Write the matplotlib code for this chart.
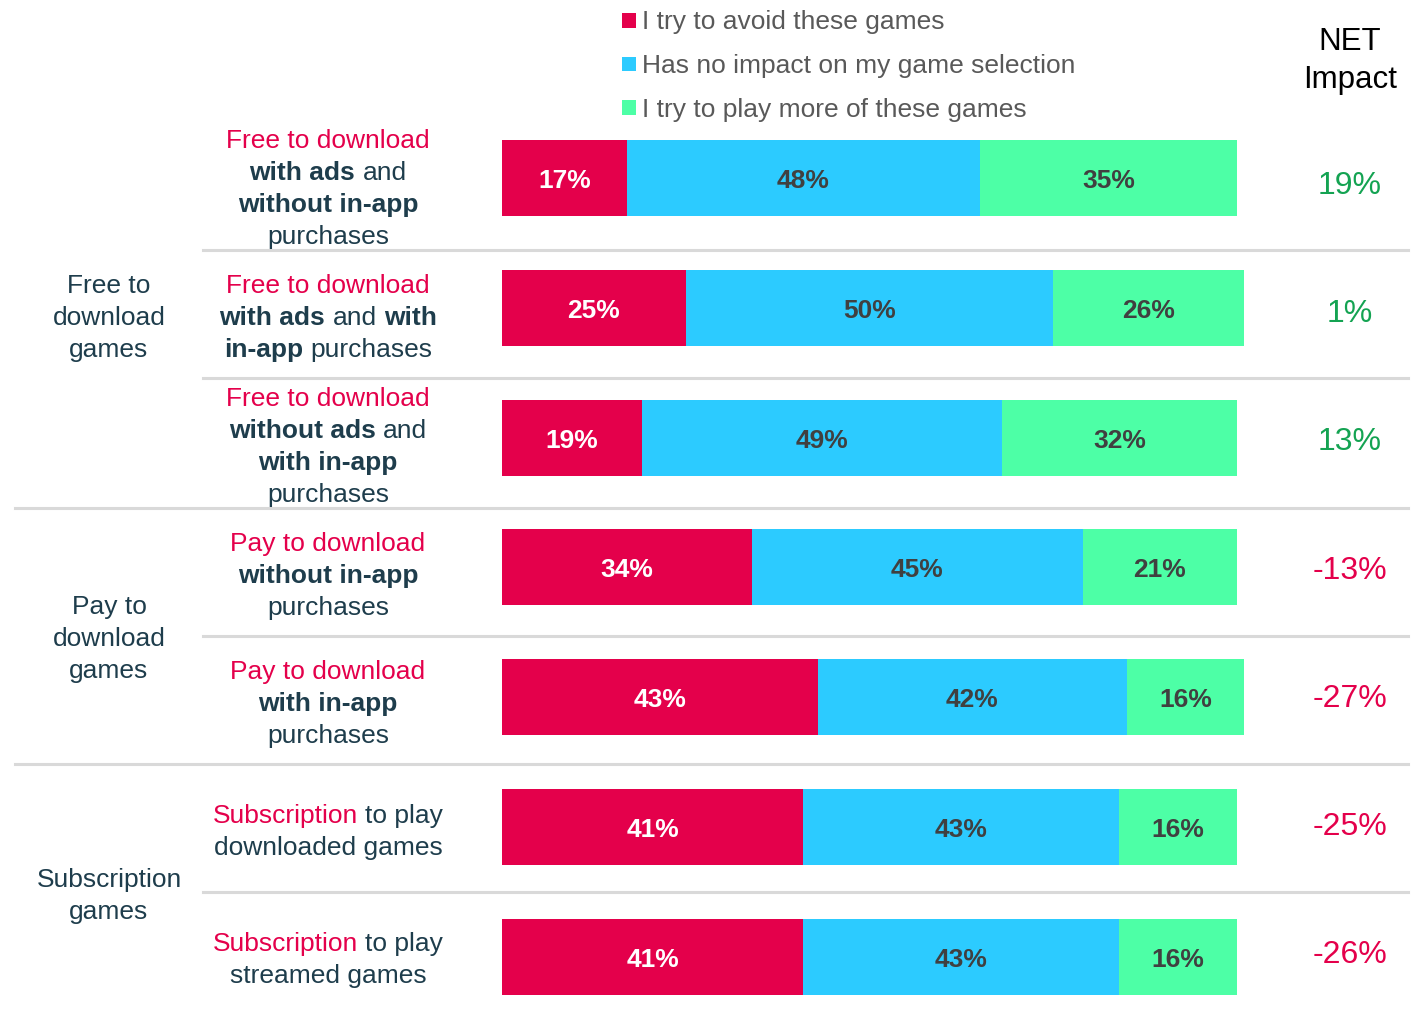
import matplotlib.pyplot as plt
from matplotlib.patches import Rectangle
from matplotlib.lines import Line2D
from matplotlib.transforms import ScaledTranslation

plt.rcParams['font.family'] = ['Liberation Sans', 'DejaVu Sans']

W, H = 1425, 1015

# survey answers per game model (percent of respondents)
series = ["I try to avoid these games",
          "Has no impact on my game selection",
          "I try to play more of these games"]
avoid = [17, 25, 19, 34, 43, 41, 41]
no_impact = [48, 50, 49, 45, 42, 43, 43]
play_more = [35, 26, 32, 21, 16, 16, 16]
net_impact = [19, 1, 13, -13, -27, -25, -26]

groups = ["Free to\ndownload\ngames", "Pay to\ndownload\ngames", "Subscription\ngames"]
group_sizes = [3, 2, 2]

# row labels: lines made of (text, style) pieces, joined by spaces
R, B, N = 'red', 'bold', 'plain'
row_labels = [
    [[("Free to download", R)], [("with ads", B), ("and", N)],
     [("without in-app", B)], [("purchases", N)]],
    [[("Free to download", R)], [("with ads", B), ("and", N), ("with", B)],
     [("in-app", B), ("purchases", N)]],
    [[("Free to download", R)], [("without ads", B), ("and", N)],
     [("with in-app", B)], [("purchases", N)]],
    [[("Pay to download", R)], [("without in-app", B)], [("purchases", N)]],
    [[("Pay to download", R)], [("with in-app", B)], [("purchases", N)]],
    [[("Subscription", R), ("to play", N)], [("downloaded games", N)]],
    [[("Subscription", R), ("to play", N)], [("streamed games", N)]],
]

RED = '#E4004B'
BLUE = '#2CCBFF'
GREEN = '#4DFFA6'
DARK = '#1E3D4C'
NET_GREEN = '#14A352'
colors = [RED, BLUE, GREEN]

# layout in pixels
ROW0, STEP = 178, 129.8
BAR_LEFT, PX_PER_PCT = 502, 7.35
FS = 19
LINE = 32

fig = plt.figure(figsize=(W / 100, H / 100), dpi=100)
ax = fig.add_axes([0, 0, 1, 1])
ax.set_xlim(-BAR_LEFT / PX_PER_PCT, (W - BAR_LEFT) / PX_PER_PCT)
ax.set_ylim((H - ROW0) / STEP, -ROW0 / STEP)
ax.axis('off')

rows = list(range(len(avoid)))
lefts = [0] * len(rows)
down = ScaledTranslation(0, -0.10, fig.dpi_scale_trans)
for vals, col in zip([avoid, no_impact, play_more], colors):
    ax.barh(rows, vals, left=lefts, height=0.585, color=col, linewidth=0)
    txt_col = 'white' if col == RED else '#404040'
    for r, v, l in zip(rows, vals, lefts):
        ax.text(l + v / 2, r, f"{v}%", ha='center', va='baseline',
                fontsize=FS, fontweight='bold', color=txt_col,
                transform=ax.transData + down)
    lefts = [l + v for l, v in zip(lefts, vals)]


def fx(px):
    return px / W


def fy(py):
    return 1 - py / H


def row_y(i):
    return ROW0 + STEP * i


renderer = fig.canvas.get_renderer()


def seg_props(style):
    if style == R:
        return dict(color=RED, fontweight='normal')
    if style == B:
        return dict(color=DARK, fontweight='bold')
    return dict(color=DARK, fontweight='normal')


def text_width(s, **kw):
    t = fig.text(0, 0, s, fontsize=FS, **kw)
    w = t.get_window_extent(renderer).width
    t.remove()
    return w


space_w = text_width("a a") - text_width("aa")


def rich_line(cx, base, segs):
    widths = [text_width(s, **seg_props(st)) for s, st in segs]
    total = sum(widths) + space_w * (len(segs) - 1)
    x = cx - total / 2
    for (s, st), w in zip(segs, widths):
        fig.text(fx(x), fy(base), s, fontsize=FS, ha='left', va='baseline',
                 **seg_props(st))
        x += w + space_w


# row labels, middle baseline a little below the bar centre
label_offsets = [18, 17, 16.5, 15.5, 14, 12, 10]
for i, lines in enumerate(row_labels):
    mid = row_y(i) + label_offsets[i]
    n = len(lines)
    for k, segs in enumerate(lines):
        rich_line(328, mid + (k - (n - 1) / 2) * LINE, segs)

# group labels on the far left
group_offsets = [17, 14, 11]
start = 0
for g, size, off in zip(groups, group_sizes, group_offsets):
    centre = (row_y(start) + row_y(start + size - 1)) / 2 + off
    parts = g.split("\n")
    for k, p in enumerate(parts):
        fig.text(fx(109), fy(centre + (k - (len(parts) - 1) / 2) * LINE), p,
                 fontsize=FS, ha='center', va='baseline', color=DARK)
    start += size

# separators: full width between groups, indented inside a group
sep_y = [250, 378, 508, 636, 764, 892]
group_ends = set()
acc = 0
for size in group_sizes[:-1]:
    acc += size
    group_ends.add(acc - 1)
for k, y in enumerate(sep_y):
    x0 = 15 if k in group_ends else 203
    fig.add_artist(Line2D([fx(x0), fx(1408)], [fy(y), fy(y)],
                          color='#D9D9D9', lw=2.2))

# legend
for k, (name, col) in enumerate(zip(series, colors)):
    cy = 20.5 + 43.5 * k
    fig.add_artist(Rectangle((fx(622), fy(cy + 7)), 14 / W, 14 / H,
                             transform=fig.transFigure, color=col, lw=0))
    fig.text(fx(642), fy(cy + 9), name, fontsize=FS, ha='left',
             va='baseline', color='#595959')

# NET impact column
fig.text(fx(1350), fy(50), "NET", fontsize=22.5, ha='center', va='baseline',
         color='black')
fig.text(fx(1350), fy(88), "Impact", fontsize=22.5, ha='center',
         va='baseline', color='black')
for i, v in enumerate(net_impact):
    fig.text(fx(1350), fy(182 + 128.2 * i + 12), f"{v}%", fontsize=23,
             ha='center', va='baseline',
             color=NET_GREEN if v > 0 else RED)

fig.savefig("out.png", dpi=100)
